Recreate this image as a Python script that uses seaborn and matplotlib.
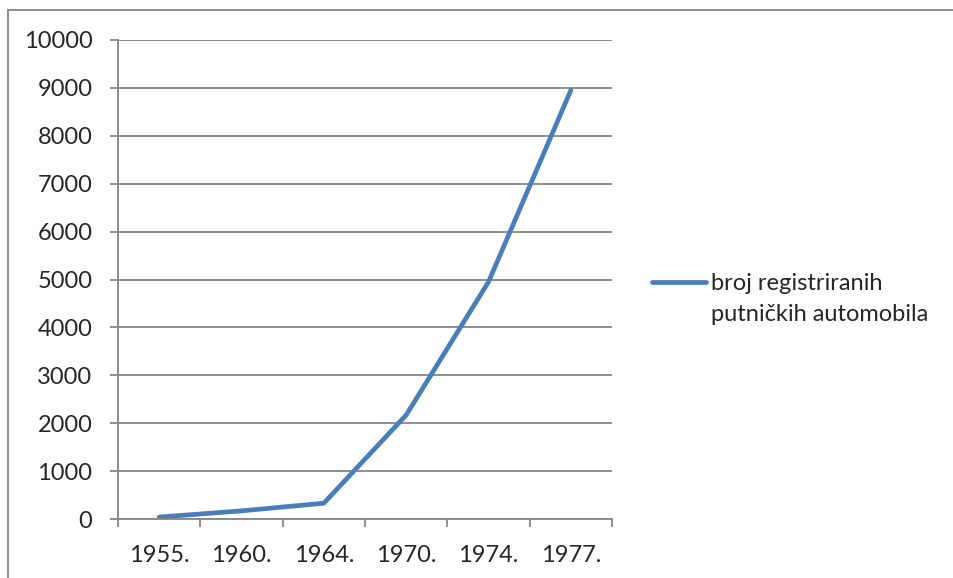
import matplotlib
matplotlib.use("Agg")
import matplotlib.pyplot as plt
import numpy as np
import pandas as pd
import seaborn as sns
from matplotlib.lines import Line2D
from matplotlib.patches import Rectangle

years = ["1955.", "1960.", "1964.", "1970.", "1974.", "1977."]
cars = [40, 170, 330, 2170, 4950, 8950]
label_lines = ["broj registriranih", "putničkih automobila"]

df = pd.DataFrame({"godina": years, "broj": cars})

sns.set_style("white")
plt.rcParams["font.family"] = ["Lato", "DejaVu Sans"]

grid_col = "#868686"
line_col = "#4A7EBB"
fs = 17

fig = plt.figure(figsize=(9.54, 5.78), dpi=100)
ax = fig.add_axes([118 / 954, 1 - 519 / 578, 494 / 954, 479 / 578])

sns.lineplot(data=df, x="godina", y="broj", ax=ax, color=line_col,
             linewidth=3.4, sort=False, legend=False)

ax.set_xlim(-0.5, len(years) - 0.5)
ax.set_ylim(0, 10000)
ax.set_yticks(np.arange(0, 10001, 1000))
ax.set_xticks(range(len(years)))
ax.set_xticklabels(years)
ax.set_xticks(np.arange(-0.5, len(years), 1.0), minor=True)
ax.set_xlabel("")
ax.set_ylabel("")

ax.grid(axis="y", color=grid_col, linewidth=1.3)
ax.set_axisbelow(True)
for side in ["top", "right"]:
    ax.spines[side].set_visible(False)
for side in ["left", "bottom"]:
    ax.spines[side].set_color(grid_col)
    ax.spines[side].set_linewidth(1.3)

ax.tick_params(axis="y", which="major", length=5.5, width=1.3, color=grid_col,
               direction="out", left=True, pad=13, labelsize=fs)
ax.tick_params(axis="x", which="major", length=0, pad=19, labelsize=fs)
ax.tick_params(axis="x", which="minor", length=5.5, width=1.3, color=grid_col,
               direction="out", bottom=True)

# Excel-style legend: handle next to the first line of a two-line label
handles = [Line2D([], [], color=line_col, linewidth=3.4),
           Line2D([], [], color="none")]
leg = ax.legend(handles, label_lines, loc="center left",
                bbox_to_anchor=(652 / 954, 1 - 299 / 578),
                bbox_transform=fig.transFigure, frameon=False, fontsize=fs,
                handlelength=2.3, handletextpad=0.2, borderpad=0,
                borderaxespad=0, labelspacing=0.42)

fig.patches.append(Rectangle((8 / 954, -0.01), 1.1, 1 - 10 / 578 + 0.01,
                             transform=fig.transFigure, fill=False,
                             edgecolor=grid_col, linewidth=1.3))

fig.savefig("out.png", dpi=100)
